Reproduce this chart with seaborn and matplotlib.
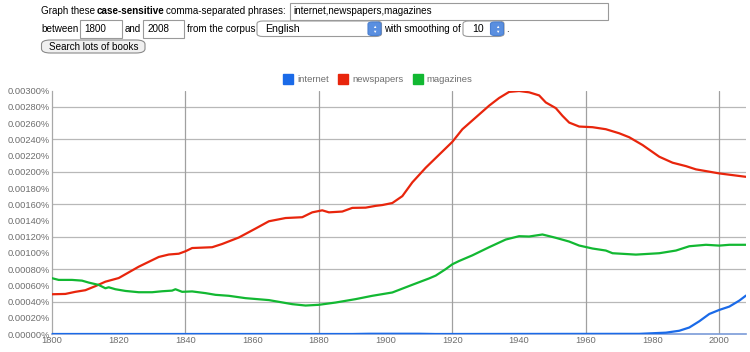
import matplotlib
matplotlib.use("Agg")
import matplotlib.pyplot as plt
from matplotlib.patches import FancyBboxPatch
from matplotlib.lines import Line2D
import numpy as np
import pandas as pd
import seaborn as sns

# ---------------- data (values in percent) ----------------
news_years = [1800, 1804, 1807, 1810, 1813, 1816, 1820, 1823, 1826, 1829, 1832, 1835, 1838,
              1840, 1842, 1845, 1848, 1851, 1856, 1861, 1865, 1870, 1875, 1878, 1881, 1883,
              1887, 1890, 1894, 1897, 1899, 1902, 1905, 1908, 1912, 1917, 1920, 1923, 1927,
              1931, 1934, 1937, 1940, 1943, 1946, 1948, 1951, 1953, 1955, 1958, 1962, 1966,
              1970, 1973, 1977, 1982, 1986, 1990, 1993, 2000, 2008]
news_vals = [0.00049, 0.000494, 0.00052, 0.00054, 0.00059, 0.000645, 0.00069, 0.00076, 0.00083,
             0.00089, 0.00095, 0.00098, 0.00099, 0.00102, 0.00106, 0.001065, 0.00107, 0.00111,
             0.00119, 0.0013, 0.00139, 0.00143, 0.00144, 0.0015, 0.001525, 0.0015, 0.00151,
             0.001555, 0.001558, 0.00158, 0.00159, 0.001615, 0.0017, 0.00187, 0.00205, 0.00225,
             0.00237, 0.002525, 0.00267, 0.002815, 0.00291, 0.002985, 0.002996, 0.00298,
             0.002942, 0.002855, 0.002785, 0.00269, 0.002607, 0.002558, 0.00255, 0.002525,
             0.002475, 0.002426, 0.00233, 0.002186, 0.002112, 0.00207, 0.00203, 0.00198, 0.001938]

mag_years = [1800, 1802, 1806, 1809, 1811, 1814, 1816, 1817, 1819, 1822, 1826, 1830, 1833,
             1836, 1837, 1839, 1842, 1846, 1849, 1853, 1858, 1865, 1872, 1876, 1880, 1885,
             1891, 1896, 1902, 1908, 1913, 1915, 1918, 1920, 1922, 1926, 1931, 1936, 1940,
             1943, 1947, 1951, 1955, 1958, 1962, 1966, 1968, 1975, 1982, 1987, 1991, 1996,
             2000, 2003, 2008]
mag_vals = [0.000688, 0.000667, 0.000667, 0.000658, 0.000634, 0.000605, 0.000564, 0.000576,
            0.000552, 0.000531, 0.000515, 0.000515, 0.000527, 0.000535, 0.000552, 0.00052,
            0.000525, 0.000504, 0.000483, 0.000471, 0.000442, 0.000418, 0.000368, 0.000351,
            0.00036, 0.000388, 0.00043, 0.000471, 0.000512, 0.000607, 0.000685, 0.00072,
            0.0008, 0.00086, 0.0009, 0.00097, 0.00107, 0.001165, 0.001206, 0.001202, 0.001227,
            0.001186, 0.00114, 0.001091, 0.001054, 0.001029, 0.000996, 0.000979, 0.000996,
            0.001029, 0.001082, 0.0011, 0.00109, 0.0011, 0.0011]

net_years = [1800, 1890, 1895, 1910, 1915, 1976, 1984, 1988, 1991, 1994, 1997, 2000, 2003, 2006, 2008]
net_vals = [0.0, 0.0, 0.000003, 0.000003, 0.0, 0.000002, 0.0000165, 0.00004, 0.00008,
            0.000157, 0.000247, 0.000297, 0.000338, 0.000412, 0.000474]

series_names = ["internet", "newspapers", "magazines"]
series_colors = ["#1a6ae8", "#e8250c", "#12b832"]
x_ticks = [1800, 1820, 1840, 1860, 1880, 1900, 1920, 1940, 1960, 1980, 2000]
y_ticks = [0.0, 0.0002, 0.0004, 0.0006, 0.0008, 0.0010, 0.0012, 0.0014, 0.0016, 0.0018,
           0.0020, 0.0022, 0.0024, 0.0026, 0.0028, 0.0030]

df = pd.concat([
    pd.DataFrame({"year": net_years, "value": net_vals, "phrase": "internet"}),
    pd.DataFrame({"year": news_years, "value": news_vals, "phrase": "newspapers"}),
    pd.DataFrame({"year": mag_years, "value": mag_vals, "phrase": "magazines"}),
])

# ---------------- figure ----------------
sns.set_style("white")
plt.rcParams["font.family"] = ["Liberation Sans", "DejaVu Sans"]

W, H = 750, 352
fig = plt.figure(figsize=(W / 100, H / 100), dpi=100)
fig.patch.set_facecolor("white")

def fx(x):
    return x / W

def fy(y):
    return 1 - y / H

ax = fig.add_axes([fx(52), fy(334), (746 - 52) / W, (334 - 90.7) / H])

sns.lineplot(data=df, x="year", y="value", hue="phrase", hue_order=series_names,
             palette=dict(zip(series_names, series_colors)), linewidth=1.6,
             legend=False, ax=ax, zorder=3, estimator=None)

ax.set_xlim(1800, 2008)
ax.set_ylim(0, 0.0030)
ax.set_xticks(x_ticks)
ax.set_yticks(y_ticks)
ax.set_yticklabels(["%.5f%%" % v for v in y_ticks])
ax.tick_params(axis="both", length=0, labelsize=6.7, colors="#6e6e6e")
ax.tick_params(axis="y", pad=1.5)
ax.tick_params(axis="x", pad=1.5)
ax.set_xlabel("")
ax.set_ylabel("")

for v in np.arange(0.0004, 0.00281, 0.0004):
    ax.axhline(v, color="#b8b8b8", linewidth=0.9, zorder=1)
for yr in range(1840, 2001, 40):
    ax.axvline(yr, color="#a0a0a0", linewidth=0.9, zorder=1)

for s in ["top", "right"]:
    ax.spines[s].set_visible(False)
ax.spines["left"].set_color("#a8a8a8")
ax.spines["left"].set_linewidth(0.9)
ax.spines["bottom"].set_color("#7a9bd8")
ax.spines["bottom"].set_linewidth(1.2)

# legend
handles = [Line2D([], [], marker="s", linestyle="", markersize=7.2,
                  markerfacecolor=c, markeredgecolor=c) for c in series_colors]
fig.legend(handles, series_names, loc="center", bbox_to_anchor=(fx(378), fy(80)),
           ncol=3, frameon=False, fontsize=6.8, handletextpad=0.45, columnspacing=1.0,
           handlelength=1.0, labelcolor="#6e6e6e", borderaxespad=0, borderpad=0)

# ---------------- form at top ----------------
fs = 7.1

def box(x0, y0, x1, y1, r=0.0, fc="white", ec="#9a9a9a", lw=0.8):
    p = FancyBboxPatch((fx(x0), fy(y1)), fx(x1) - fx(x0), fy(y0) - fy(y1),
                       boxstyle="round,pad=0,rounding_size=%f" % r if r else "square,pad=0",
                       transform=fig.transFigure, facecolor=fc, edgecolor=ec, linewidth=lw)
    fig.patches.append(p)

def txt(x, y, s, **kw):
    fig.text(fx(x), fy(y), s, fontsize=kw.pop("fontsize", fs), va="center", ha=kw.pop("ha", "left"),
             color=kw.pop("color", "black"), **kw)

# row 1
txt(40.7, 10.5, "Graph these")
txt(96.5, 10.5, "case-sensitive", fontweight="bold")
txt(166.5, 10.5, "comma-separated phrases:")
box(290, 2.5, 608, 19.5)
txt(293.5, 10.5, "internet,newspapers,magazines")

# row 2
txt(41.5, 29.5, "between")
box(80, 20, 121.5, 38)
txt(84, 29.5, "1800")
txt(124.5, 29.5, "and")
box(143, 20, 184, 38)
txt(147, 29.5, "2008")
txt(187, 29.5, "from the corpus")
box(257, 21, 381.5, 36.5, r=0.008)
txt(265, 29.3, "English", fontsize=7.6)
box(368, 22, 381, 35.5, r=0.006, fc="#5a8fe0", ec="#4a7fd0")
txt(374.5, 26.7, "\u25b2", ha="center", fontsize=3.2, color="white")
txt(374.5, 31.8, "\u25bc", ha="center", fontsize=3.2, color="white")
txt(384.5, 29.5, "with smoothing of")
box(463, 21, 504, 36.5, r=0.008)
txt(472.5, 29.3, "10", fontsize=7.6)
box(490.5, 22, 503.5, 35.5, r=0.006, fc="#5a8fe0", ec="#4a7fd0")
txt(497, 26.7, "\u25b2", ha="center", fontsize=3.2, color="white")
txt(497, 31.8, "\u25bc", ha="center", fontsize=3.2, color="white")
txt(506.5, 29.5, ".")

# row 3 button
box(41.5, 40, 145, 53, r=0.012, fc="#f0f0f0", ec="#8a8a8a")
txt(93.3, 46.5, "Search lots of books", ha="center")

fig.savefig("out.png", dpi=100, facecolor="white")
